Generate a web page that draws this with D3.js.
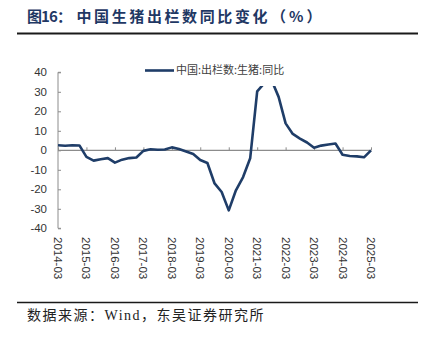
<!DOCTYPE html>
<html><head><meta charset="utf-8">
<script src="https://cdn.jsdelivr.net/npm/d3@7"></script>
<style>
html,body{margin:0;padding:0;background:#fff;}
svg{display:block;}
</style></head>
<body>
<svg id="c" width="425" height="348"></svg>
<script>
// quarterly (cumulative YTD) data 2014Q1 .. 2025Q1
const years = [2014,2015,2016,2017,2018,2019,2020,2021,2022,2023,2024,2025];
const quarterMonths = [3,6,9,12];
const values = [
  2.6, 2.3, 2.6, 2.5,
  -3.4, -5.3, -4.6, -4.0,
  -6.3, -4.8, -4.0, -3.7,
  -0.3, 0.5, 0.3, 0.4,
  1.5, 0.7, -0.6, -1.9,
  -5.0, -6.5, -17.0, -21.4,
  -30.8, -20.5, -13.7, -4.1,
  30.2, 34.4, 36.0, 27.4,
  13.8, 8.4, 6.0, 4.0,
  1.3, 2.4, 3.0, 3.5,
  -2.3, -2.9, -3.1, -3.6,
  0.0
];
const yTicks = [-40,-30,-20,-10,0,10,20,30,40];
const seriesName = "中国:出栏数:生猪:同比";
const titleParts = ["图16：", "中国生猪出栏数同比变化", "（%）"];
const sourceText = "数据来源：Wind，东吴证券研究所";

const dates = values.map((v,i)=> new Date(years[0] + Math.floor(i/4), quarterMonths[i%4]-1, 1));
const data = values.map((v,i)=>({d:dates[i], v}));
const tickDates = years.map(y=> new Date(y,2,1));

const svg = d3.select("#c");
const x = d3.scaleTime().domain([tickDates[0], tickDates[tickDates.length-1]]).range([58, 371]);
const y = d3.scaleLinear().domain([-40,40]).range([228.3, 72.3]);

// title
const tFont = "'Noto Sans CJK SC', sans-serif";
const title = svg.append("text").attr("y",22)
  .attr("font-family",tFont).attr("font-weight","bold")
  .attr("font-size",15).attr("fill","#1f3864");
title.append("tspan").attr("x",27).attr("textLength",45).attr("lengthAdjust","spacing").text(titleParts[0]);
title.append("tspan").attr("x",76.5).attr("textLength",191).attr("lengthAdjust","spacing").text(titleParts[1]);
title.append("tspan").attr("x",271).attr("letter-spacing",3).text(titleParts[2]);
svg.append("line").attr("x1",17).attr("x2",418).attr("y1",33.5).attr("y2",33.5)
  .attr("stroke","#1a1a1a").attr("stroke-width",2);

// y axis
const yAxis = svg.append("g").attr("transform","translate(58,0)")
  .call(d3.axisRight(y).tickValues(yTicks).tickSize(3).tickFormat(""));
yAxis.select(".domain").attr("stroke","#8c8c8c").attr("d", `M3,${y(40)}H0V${y(-40)}H3`);
yAxis.selectAll(".tick line").attr("stroke","#8c8c8c");
svg.append("g").selectAll("text").data(yTicks).join("text")
  .attr("x",47).attr("y",d=>y(d)).attr("dy","0.36em").attr("text-anchor","end")
  .attr("font-family","'Liberation Sans', Arial, sans-serif").attr("font-size",11.5)
  .attr("fill","#333").text(d=>d);

// x axis at zero
const xAxis = svg.append("g").attr("transform",`translate(0,${y(0)})`)
  .call(d3.axisTop(x).tickValues(tickDates).tickSize(3).tickFormat(""));
xAxis.select(".domain").attr("stroke","#8c8c8c").attr("stroke-width",1.3).attr("d",`M58,0H${x(tickDates[tickDates.length-1])}`);
xAxis.selectAll(".tick line").attr("stroke","#8c8c8c");

// x labels (rotated)
const fmt = d3.timeFormat("%Y-%m");
svg.append("g").selectAll("text").data(tickDates).join("text")
  .attr("transform", d=>`translate(${x(d)-4},237) rotate(90)`)
  .attr("font-family","'Liberation Sans', Arial, sans-serif").attr("font-size",11.5)
  .attr("fill","#333").text(d=>fmt(d));

// line
svg.append("path").datum(data)
  .attr("fill","none").attr("stroke","#1f3d68").attr("stroke-width",2.6)
  .attr("stroke-linejoin","round")
  .attr("d", d3.line().x(d=>x(d.d)).y(d=>y(d.v)));

// legend (white box covers peak)
const lg = svg.append("g");
lg.append("rect").attr("x",140).attr("y",58).attr("width",156).attr("height",28).attr("fill","#fff");
lg.append("line").attr("x1",145).attr("x2",174).attr("y1",70.5).attr("y2",70.5)
  .attr("stroke","#1f3d68").attr("stroke-width",2.6);
lg.append("text").attr("x",176).attr("y",70.5).attr("dy","0.36em")
  .attr("font-family","'Noto Sans CJK SC', sans-serif").attr("font-size",11)
  .attr("fill","#404040").text(seriesName);

// footer
svg.append("line").attr("x1",17).attr("x2",418).attr("y1",302.5).attr("y2",302.5)
  .attr("stroke","#1a1a1a").attr("stroke-width",1.6);
svg.append("text").attr("x",27).attr("y",320)
  .attr("font-family","'Liberation Serif', 'Noto Sans CJK SC', serif")
  .attr("font-size",14).attr("letter-spacing",1.5).attr("fill","#222")
  .text(sourceText);
</script>
</body></html>
